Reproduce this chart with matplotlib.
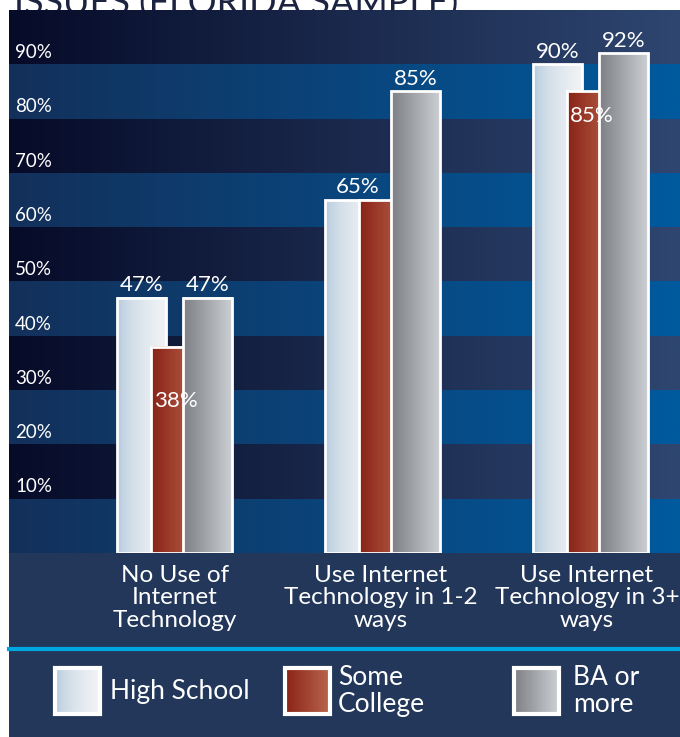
import numpy as np
import matplotlib
matplotlib.use("Agg")
import matplotlib.pyplot as plt
from matplotlib.patches import Rectangle
from matplotlib.colors import to_rgb

plt.rcParams["font.family"] = ["Lato", "DejaVu Sans"]

# --- data ---
categories = ["No Use of\nInternet\nTechnology",
              "Use Internet\nTechnology in 1-2\nways",
              "Use Internet\nTechnology in 3+\nways"]
series = ["High School", "Some\nCollege", "BA or\nmore"]
high_school = [47, 65, 90]
some_college = [38, 65, 85]
ba_or_more = [47, 85, 92]
y_ticks = [10, 20, 30, 40, 50, 60, 70, 80, 90]
title = "ISSUES (FLORIDA SAMPLE)"

# --- style ---
W, H = 680, 737
PANEL_L, PANEL_T, PLOT_B = 9, 10, 553
BOTTOM_BG = "#22375a"
BAND_DARK = ("#060b28", "#2e4670")
BAND_BLUE = ("#13305a", "#005a9e")
FILLS = [("#a6bfd6", "#f2f4f6"), ("#8a2217", "#b9664c"), ("#7d7f84", "#cdd0d4")]
OFFSETS = [-0.163, 0.0, 0.154]
BAR_W = 0.236


def hgrad(c0, c1, n=256, power=1.0):
    a, b = np.array(to_rgb(c0)), np.array(to_rgb(c1))
    t = np.linspace(0, 1, n) ** power
    return (a[None, :] * (1 - t[:, None]) + b[None, :] * t[:, None])[None, :, :]


fig = plt.figure(figsize=(W / 100, H / 100), dpi=100)
fig.patch.set_facecolor("white")

# cut-off title at the top (the panel hides its lower part)
fig.text(14 / W, 1 - 15 / H, title, color="#1c2442", fontsize=26,
         ha="left", va="baseline", zorder=-20)

# dark lower panel behind categories and legend
bg = fig.add_axes([PANEL_L / W, 0, 1 - PANEL_L / W, (H - PANEL_T) / H], zorder=-10)
bg.set_facecolor(BOTTOM_BG)
bg.set_xticks([])
bg.set_yticks([])
for sp in bg.spines.values():
    sp.set_visible(False)

ax = fig.add_axes([PANEL_L / W, (H - PLOT_B) / H, 1 - PANEL_L / W, (PLOT_B - PANEL_T) / H],
                  zorder=1)
xlim = (-0.800, 2.425)
ylim = (0, 100)

# banded gradient background
for k in range(10):
    c0, c1 = BAND_BLUE if k % 2 == 0 else BAND_DARK
    ax.imshow(hgrad(c0, c1), extent=(xlim[0], xlim[1], k * 10, k * 10 + 10),
              aspect="auto", zorder=0, interpolation="bilinear")

# bars with horizontal gradient and white edges
values = [high_school, some_college, ba_or_more]
for s, (vals, off, (c0, c1)) in enumerate(zip(values, OFFSETS, FILLS)):
    power = 0.45 if s == 0 else 1.0
    for i, v in enumerate(vals):
        x0 = i + off - BAR_W / 2
        ax.imshow(hgrad(c0, c1, power=power), extent=(x0, x0 + BAR_W, 0, v),
                  aspect="auto", zorder=2 + s, interpolation="bilinear")
        ax.add_patch(Rectangle((x0, 0), BAR_W, v, facecolor="none",
                               edgecolor="white", linewidth=2, zorder=2.5 + s))

# value labels
lab_kw = dict(color="white", fontsize=16, ha="center", zorder=10)
for i in range(3):
    hs, sc, ba = high_school[i], some_college[i], ba_or_more[i]
    if hs == sc:
        ax.text(i + OFFSETS[0] + 0.04, hs + 0.5, f"{hs}%", va="bottom", **lab_kw)
    else:
        ax.text(i + OFFSETS[0], hs + 0.5, f"{hs}%", va="bottom", **lab_kw)
        drop = 10 if i == 0 else 4.5
        ax.text(i + OFFSETS[1], sc - drop, f"{sc}%", va="center", **lab_kw)
    ax.text(i + OFFSETS[2], ba + 0.5, f"{ba}%", va="bottom", **lab_kw)

# y tick labels
for t in y_ticks:
    ax.text(xlim[0] + 0.03, t + 0.6, f"{t}%", color="white", fontsize=13.5,
            ha="left", va="bottom", zorder=10)

ax.set_xlim(*xlim)
ax.set_ylim(*ylim)
ax.axis("off")

# category labels
for i, cat in enumerate(categories):
    xpx = 175 + 206 * i
    fig.text(xpx / W, 1 - 598 / H, cat, color="white", fontsize=17.5,
             ha="center", va="center", linespacing=1.08)

# cyan separator
fig.add_artist(plt.Line2D([PANEL_L / W, 1], [1 - 649 / H] * 2, color="#00a6e0",
                          linewidth=3, transform=fig.transFigure))

# legend
leg_x = [55, 285, 514]
txt_x = [110, 338, 573]
for s in range(3):
    lax = fig.add_axes([leg_x[s] / W, 1 - 714 / H, 45 / W, 46 / H], zorder=2)
    lax.imshow(hgrad(*FILLS[s], power=0.45 if s == 0 else 1.0),
               extent=(0, 1, 0, 1), aspect="auto", interpolation="bilinear")
    lax.add_patch(Rectangle((0, 0), 1, 1, facecolor="none", edgecolor="white",
                            linewidth=3, clip_on=False))
    lax.set_xlim(0, 1)
    lax.set_ylim(0, 1)
    lax.axis("off")
    fig.text(txt_x[s] / W, 1 - 691 / H, series[s], color="white", fontsize=19,
             ha="left", va="center", linespacing=1.1)

fig.savefig("out.png", dpi=100, facecolor=fig.get_facecolor())
